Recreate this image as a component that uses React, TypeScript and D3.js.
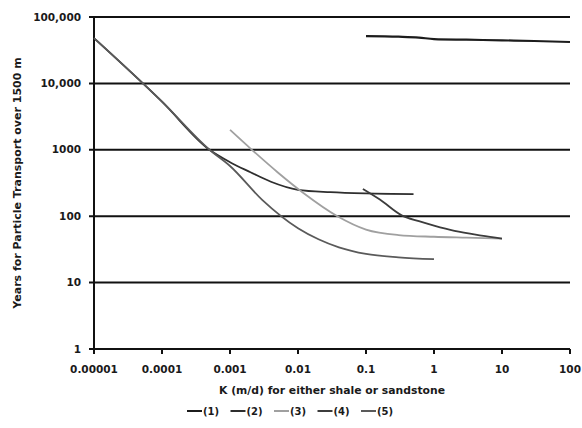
import { scaleLog, line, curveMonotoneX } from "d3";

const kTicks = [0.00001, 0.0001, 0.001, 0.01, 0.1, 1, 10, 100];
const kLabels = ["0.00001", "0.0001", "0.001", "0.01", "0.1", "1", "10", "100"];
const yTicks = [1, 10, 100, 1000, 10000, 100000];
const yLabels = ["1", "10", "100", "1000", "10,000", "100,000"];

// series (1): top, nearly flat
const k1 = [0.1, 0.3, 0.6, 1, 3, 10, 30, 100];
const y1 = [51500, 50500, 49000, 46500, 45500, 44500, 43500, 42000];
// series (2): steep then flattens near 220
const k2 = [0.00001, 0.0001, 0.0005, 0.001, 0.002, 0.004, 0.01, 0.03, 0.1, 0.5];
const y2 = [48000, 5300, 1000, 650, 460, 330, 250, 230, 220, 215];
// series (3): starts at 0.001
const k3 = [0.001, 0.0021, 0.005, 0.012, 0.038, 0.1, 0.3, 1, 3, 10];
const y3 = [2000, 1000, 460, 224, 100, 63, 52, 49, 47.5, 46];
// series (4): starts at 0.1
const k4 = [0.09, 0.16, 0.34, 0.6, 1, 2, 5, 10];
const y4 = [257, 178, 102, 84, 72, 60, 51, 46];
// series (5): steep then drops to ~22
const k5 = [0.00001, 0.0001, 0.0005, 0.001, 0.003, 0.01, 0.02, 0.04, 0.1, 0.3, 1];
const y5 = [48000, 5300, 1000, 570, 175, 66, 45, 34, 27, 24, 22.5];

const seriesNames = ["(1)", "(2)", "(3)", "(4)", "(5)"];
const seriesColors = ["#1c1c1c", "#2e2e2e", "#a0a0a0", "#3c3c3c", "#5a5a5a"];
const seriesK = [k1, k2, k3, k4, k5];
const seriesY = [y1, y2, y3, y4, y5];

const width = 582;
const height = 428;
const margin = { left: 94, right: 12, top: 17, bottom: 79 };
const font = "'DejaVu Sans', sans-serif";

export default function App() {
  const x = scaleLog()
    .domain([0.00001, 100])
    .range([margin.left, width - margin.right]);
  const y = scaleLog()
    .domain([1, 100000])
    .range([height - margin.bottom, margin.top]);

  const lineGen = line<[number, number]>()
    .x((d) => x(d[0]))
    .y((d) => y(d[1]))
    .curve(curveMonotoneX);

  const legendX = 187;
  const legendStep = 43.5;
  const legendY = 411;

  return (
    <svg
      width={width}
      height={height}
      viewBox={`0 0 ${width} ${height}`}
      style={{ position: "absolute", left: 0, top: 0, background: "#fff" }}
    >
      {/* gridlines + y labels */}
      {yTicks.map((t, i) => (
        <g key={t}>
          <line
            x1={margin.left - 5}
            x2={width - margin.right}
            y1={y(t)}
            y2={y(t)}
            stroke="#111"
            strokeWidth={2}
          />
          <text
            x={margin.left - 13}
            y={y(t)}
            dy="0.35em"
            textAnchor="end"
            fontFamily={font}
            fontWeight="bold"
            fontSize={10.5}
            fill="#1a1a1a"
          >
            {yLabels[i]}
          </text>
        </g>
      ))}
      {/* left axis */}
      <line
        x1={margin.left}
        x2={margin.left}
        y1={margin.top}
        y2={height - margin.bottom}
        stroke="#111"
        strokeWidth={2}
      />
      {/* x ticks + labels */}
      {kTicks.map((t, i) => (
        <g key={t}>
          <line
            x1={x(t)}
            x2={x(t)}
            y1={height - margin.bottom}
            y2={height - margin.bottom + 5}
            stroke="#111"
            strokeWidth={2}
          />
          <text
            x={x(t)}
            y={height - margin.bottom + 24}
            textAnchor="middle"
            fontFamily={font}
            fontWeight="bold"
            fontSize={10.5}
            fill="#1a1a1a"
          >
            {kLabels[i]}
          </text>
        </g>
      ))}
      {/* series */}
      {seriesK.map((ks, i) => (
        <path
          key={i}
          d={lineGen(ks.map((k, j) => [k, seriesY[i][j]] as [number, number])) ?? ""}
          fill="none"
          stroke={seriesColors[i]}
          strokeWidth={i === 0 ? 2.2 : 1.8}
        />
      ))}
      {/* axis titles */}
      <text
        x={(margin.left + width - margin.right) / 2}
        y={394}
        textAnchor="middle"
        fontFamily={font}
        fontWeight="bold"
        fontSize={10.8}
        fill="#1a1a1a"
      >
        K (m/d) for either shale or sandstone
      </text>
      <text
        transform={`translate(21, ${(margin.top + height - margin.bottom) / 2}) rotate(-90)`}
        textAnchor="middle"
        fontFamily={font}
        fontWeight="bold"
        fontSize={11}
        fill="#1a1a1a"
      >
        Years for Particle Transport over 1500 m
      </text>
      {/* legend */}
      {seriesNames.map((n, i) => (
        <g key={n} transform={`translate(${legendX + i * legendStep}, ${legendY})`}>
          <line x1={0} x2={15} y1={0} y2={0} stroke={seriesColors[i]} strokeWidth={2} />
          <text
            x={16}
            y={0}
            dy="0.35em"
            fontFamily={font}
            fontWeight="bold"
            fontSize={10}
            fill="#1a1a1a"
          >
            {n}
          </text>
        </g>
      ))}
    </svg>
  );
}
